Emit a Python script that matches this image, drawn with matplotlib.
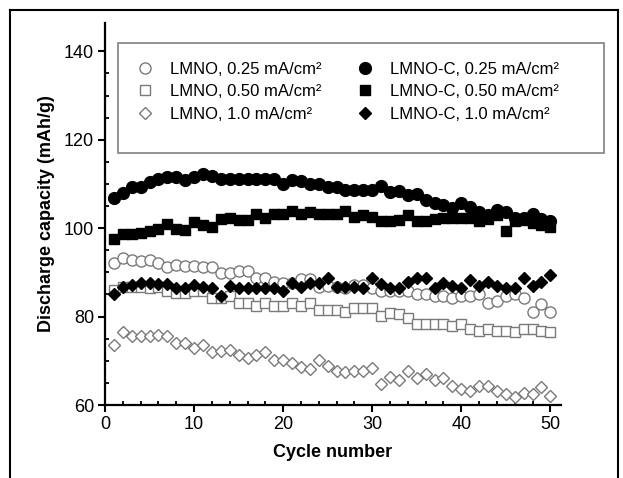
import numpy as np
import matplotlib
matplotlib.use('Agg')
import matplotlib.pyplot as plt
from matplotlib.lines import Line2D
from matplotlib.patches import Rectangle

plt.rcParams['font.family'] = ['Liberation Sans', 'DejaVu Sans']

cycles = np.arange(1, 51)

lmno_025 = [92.2, 93.3, 92.8, 92.6, 92.8, 92.2, 91.1, 91.7, 91.5, 91.5,
            91.1, 91.1, 89.8, 89.8, 90.3, 90.3, 88.7, 88.7, 87.8, 87.6,
            87.6, 88.4, 88.4, 86.8, 87.0, 86.8, 86.4, 87.2, 87.2, 86.4,
            85.7, 85.7, 85.7, 85.7, 85.1, 85.1, 84.6, 84.6, 84.1, 84.6,
            84.6, 85.0, 83.1, 83.5, 84.6, 85.0, 84.2, 81.1, 82.9, 81.1]
lmno_050 = [86.1, 86.8, 86.8, 86.8, 86.4, 86.8, 85.7, 85.3, 85.3, 85.7,
            85.7, 84.2, 84.2, 84.6, 83.1, 83.1, 82.3, 83.1, 82.3, 82.3,
            83.1, 82.3, 83.1, 81.6, 81.6, 81.6, 81.1, 82.0, 82.0, 82.0,
            80.1, 80.9, 80.5, 79.7, 78.4, 78.4, 78.4, 78.4, 77.9, 78.4,
            77.1, 76.8, 77.1, 76.8, 76.8, 76.4, 77.1, 77.1, 76.8, 76.4]
lmno_10 = [73.6, 76.4, 75.6, 75.6, 75.6, 75.9, 75.6, 74.1, 74.1, 73.0,
           73.6, 71.9, 72.3, 72.4, 71.4, 70.7, 71.4, 71.9, 70.1, 70.1,
           69.5, 68.7, 68.2, 70.2, 68.9, 67.8, 67.4, 67.8, 67.8, 68.4,
           64.8, 66.3, 65.7, 67.8, 66.0, 66.9, 65.7, 66.1, 64.2, 63.7,
           63.2, 64.2, 64.2, 63.2, 62.5, 61.9, 62.7, 62.6, 64.0, 62.0]
lmnoc_025 = [106.8, 108.0, 109.2, 109.2, 110.5, 111.2, 111.5, 111.5, 110.9, 111.5,
             112.3, 111.7, 111.2, 111.2, 111.2, 111.2, 111.2, 111.2, 111.2, 110.0,
             110.8, 110.6, 110.0, 110.0, 109.2, 109.2, 108.6, 108.6, 108.6, 108.6,
             109.6, 108.1, 108.4, 107.6, 107.7, 106.4, 105.8, 105.3, 104.6, 105.8,
             104.7, 103.6, 102.9, 104.1, 103.6, 102.3, 102.3, 103.2, 102.1, 101.7]
lmnoc_050 = [97.6, 98.7, 98.7, 99.0, 99.4, 99.8, 100.9, 99.8, 99.6, 101.4,
             100.8, 100.2, 102.1, 102.3, 101.9, 101.9, 103.2, 102.3, 103.1, 103.2,
             103.8, 103.1, 103.7, 103.2, 103.2, 103.2, 103.8, 102.6, 102.9, 102.6,
             101.7, 101.7, 101.9, 102.9, 101.7, 101.7, 102.1, 102.3, 102.3, 102.3,
             102.3, 101.7, 102.1, 102.9, 99.4, 101.7, 101.9, 101.1, 100.6, 100.2]
lmnoc_10 = [85.1, 86.8, 87.2, 87.6, 87.6, 87.4, 87.4, 86.4, 86.4, 87.2,
            86.8, 86.4, 84.6, 87.0, 86.4, 86.4, 86.4, 86.4, 86.4, 85.7,
            87.6, 86.8, 87.6, 87.6, 88.8, 86.8, 86.8, 86.8, 86.4, 88.7,
            87.3, 86.4, 86.4, 87.9, 88.7, 88.7, 86.4, 87.6, 87.0, 86.5,
            88.3, 87.0, 87.8, 87.0, 86.5, 86.4, 88.8, 87.0, 87.9, 89.3]

labels = ['LMNO, 0.25 mA/cm²', 'LMNO, 0.50 mA/cm²', 'LMNO, 1.0 mA/cm²',
          'LMNO-C, 0.25 mA/cm²', 'LMNO-C, 0.50 mA/cm²', 'LMNO-C, 1.0 mA/cm²']

W, H = 623, 478
fig = plt.figure(figsize=(W / 100, H / 100), dpi=100)
ax = fig.add_axes([105 / W, 1 - 405 / H, 456 / W, 382 / H])

gray = '#7a7a7a'
open_kw = dict(linestyle='none', markerfacecolor='white', markeredgecolor=gray, markeredgewidth=1.0)
fill_kw = dict(linestyle='none', color='black')

ax.plot(cycles, lmno_050, marker='s', markersize=7, **open_kw)
ax.plot(cycles, lmno_10, marker='D', markersize=6, **open_kw)
ax.plot(cycles, lmno_025, marker='o', markersize=8, **open_kw)
ax.plot(cycles, lmnoc_025, marker='o', markersize=8.5, **fill_kw)
ax.plot(cycles, lmnoc_050, marker='s', markersize=7.5, **fill_kw)
ax.plot(cycles, lmnoc_10, marker='D', markersize=6, **fill_kw)

ax.set_xlim(0, 51.2)
ax.set_ylim(60, 146.4)
ax.set_xticks(np.arange(0, 51, 10))
ax.set_xticks(np.arange(0, 51, 2), minor=True)
ax.set_yticks(np.arange(60, 141, 20))
ax.set_yticks(np.arange(60, 141, 5), minor=True)
for s in ['top', 'right']:
    ax.spines[s].set_visible(False)
for s in ['left', 'bottom']:
    ax.spines[s].set_linewidth(1.6)
ax.tick_params(which='major', direction='out', length=5, width=1.5, labelsize=13, pad=3)
ax.tick_params(which='minor', direction='in', length=3, width=1.3)

ax.set_xlabel('Cycle number', fontsize=13, fontweight='bold', labelpad=8)
ax.set_ylabel('Discharge capacity (mAh/g)', fontsize=13, fontweight='bold', labelpad=6)

handles = [
    Line2D([], [], marker='o', markersize=8, **open_kw),
    Line2D([], [], marker='s', markersize=7, **open_kw),
    Line2D([], [], marker='D', markersize=6, **open_kw),
    Line2D([], [], marker='o', markersize=8.5, **fill_kw),
    Line2D([], [], marker='s', markersize=7.5, **fill_kw),
    Line2D([], [], marker='D', markersize=6, **fill_kw),
]
ax.legend(handles, labels, ncol=2, loc='upper left', frameon=False,
          bbox_to_anchor=(128 / W, 1 - 55 / H), bbox_transform=fig.transFigure,
          fontsize=12, handlelength=1.2, handletextpad=0.9, columnspacing=2.0,
          labelspacing=0.45, borderaxespad=0)

fig.add_artist(Rectangle((118 / W, 1 - 153 / H), 486 / W, 110 / H,
                         transform=fig.transFigure, fill=False, edgecolor='#808080', linewidth=1.2))
# outer frame
fig.add_artist(Line2D([10 / W, 10 / W], [-0.1, 1 - 10 / H], transform=fig.transFigure, color='black', linewidth=1.5))
fig.add_artist(Line2D([10 / W, 618 / W], [1 - 10 / H, 1 - 10 / H], transform=fig.transFigure, color='black', linewidth=1.5))
fig.add_artist(Line2D([618 / W, 618 / W], [-0.1, 1 - 10 / H], transform=fig.transFigure, color='black', linewidth=1.5))

fig.savefig('out.png', dpi=100)
